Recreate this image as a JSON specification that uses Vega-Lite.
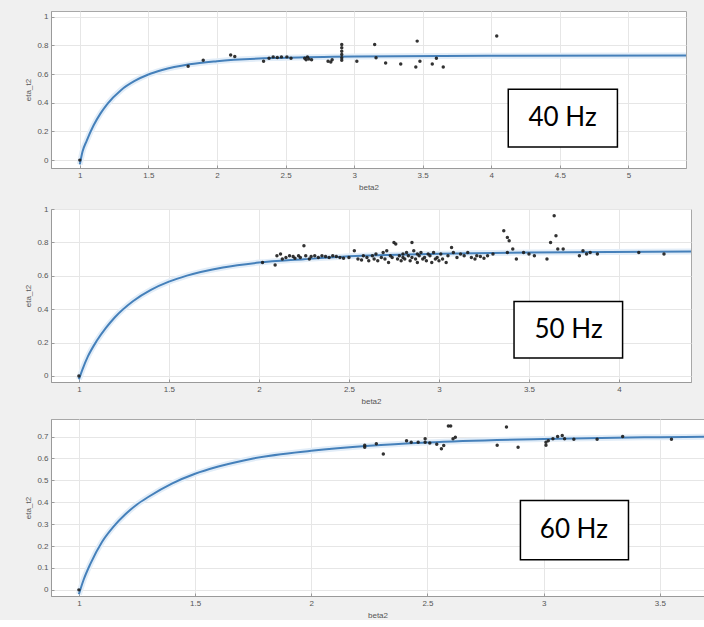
{
  "$schema": "https://vega.github.io/schema/vega-lite/v6.json",
  "padding": {"left": 24, "top": 10, "right": 0, "bottom": 0},
  "background": "#f0f0f0",
  "spacing": 12,
  "datasets": {
    "p1_pts": [
      {"beta2":1.0,"eta":0.0},{"beta2":1.79,"eta":0.655},{"beta2":1.9,"eta":0.696},{"beta2":2.1,"eta":0.733},{"beta2":2.13,"eta":0.723},
      {"beta2":2.34,"eta":0.69},{"beta2":2.38,"eta":0.71},{"beta2":2.41,"eta":0.72},{"beta2":2.44,"eta":0.715},{"beta2":2.47,"eta":0.72},
      {"beta2":2.51,"eta":0.72},{"beta2":2.54,"eta":0.71},{"beta2":2.64,"eta":0.71},{"beta2":2.65,"eta":0.70},{"beta2":2.66,"eta":0.72},
      {"beta2":2.67,"eta":0.705},{"beta2":2.69,"eta":0.70},{"beta2":2.81,"eta":0.69},{"beta2":2.83,"eta":0.685},{"beta2":2.84,"eta":0.70},
      {"beta2":2.91,"eta":0.807},{"beta2":2.91,"eta":0.784},{"beta2":2.91,"eta":0.76},{"beta2":2.91,"eta":0.737},{"beta2":2.91,"eta":0.714},
      {"beta2":2.91,"eta":0.696},{"beta2":3.02,"eta":0.69},{"beta2":3.15,"eta":0.807},{"beta2":3.16,"eta":0.714},{"beta2":3.23,"eta":0.677},
      {"beta2":3.34,"eta":0.67},{"beta2":3.46,"eta":0.83},{"beta2":3.45,"eta":0.65},{"beta2":3.48,"eta":0.69},{"beta2":3.57,"eta":0.67},
      {"beta2":3.6,"eta":0.71},{"beta2":3.65,"eta":0.65},{"beta2":4.04,"eta":0.865}
    ],
    "p1_fit": [
      {"beta2":1.0,"eta":-0.03},{"beta2":1.02,"eta":0.06},{"beta2":1.05,"eta":0.135},{"beta2":1.1,"eta":0.241},{"beta2":1.15,"eta":0.324},
      {"beta2":1.2,"eta":0.391},{"beta2":1.3,"eta":0.488},{"beta2":1.4,"eta":0.552},{"beta2":1.5,"eta":0.597},{"beta2":1.6,"eta":0.628},
      {"beta2":1.8,"eta":0.668},{"beta2":2.0,"eta":0.69},{"beta2":2.5,"eta":0.714},{"beta2":3.0,"eta":0.723},{"beta2":4.0,"eta":0.728},
      {"beta2":5.42,"eta":0.73}
    ],
    "p2_pts": [
      {"beta2":1.0,"eta":0.0},{"beta2":2.02,"eta":0.68},{"beta2":2.09,"eta":0.665},{"beta2":2.1,"eta":0.72},{"beta2":2.12,"eta":0.73},
      {"beta2":2.13,"eta":0.70},{"beta2":2.15,"eta":0.71},{"beta2":2.17,"eta":0.72},{"beta2":2.19,"eta":0.715},{"beta2":2.2,"eta":0.705},
      {"beta2":2.22,"eta":0.72},{"beta2":2.23,"eta":0.71},{"beta2":2.25,"eta":0.78},{"beta2":2.26,"eta":0.72},{"beta2":2.28,"eta":0.70},
      {"beta2":2.29,"eta":0.715},{"beta2":2.31,"eta":0.72},{"beta2":2.33,"eta":0.71},{"beta2":2.35,"eta":0.72},{"beta2":2.37,"eta":0.715},
      {"beta2":2.39,"eta":0.71},{"beta2":2.41,"eta":0.72},{"beta2":2.43,"eta":0.715},{"beta2":2.45,"eta":0.71},{"beta2":2.47,"eta":0.705},
      {"beta2":2.5,"eta":0.71},{"beta2":2.53,"eta":0.75},{"beta2":2.55,"eta":0.70},{"beta2":2.57,"eta":0.695},{"beta2":2.58,"eta":0.72},
      {"beta2":2.6,"eta":0.71},{"beta2":2.61,"eta":0.69},{"beta2":2.63,"eta":0.72},{"beta2":2.64,"eta":0.70},{"beta2":2.65,"eta":0.73},
      {"beta2":2.66,"eta":0.69},{"beta2":2.68,"eta":0.71},{"beta2":2.69,"eta":0.74},{"beta2":2.7,"eta":0.70},{"beta2":2.71,"eta":0.75},
      {"beta2":2.72,"eta":0.68},{"beta2":2.73,"eta":0.72},{"beta2":2.74,"eta":0.71},{"beta2":2.75,"eta":0.80},{"beta2":2.76,"eta":0.79},
      {"beta2":2.77,"eta":0.70},{"beta2":2.78,"eta":0.72},{"beta2":2.79,"eta":0.69},{"beta2":2.8,"eta":0.73},{"beta2":2.8,"eta":0.71},
      {"beta2":2.81,"eta":0.70},{"beta2":2.82,"eta":0.74},{"beta2":2.83,"eta":0.72},{"beta2":2.84,"eta":0.69},{"beta2":2.85,"eta":0.80},
      {"beta2":2.85,"eta":0.71},{"beta2":2.86,"eta":0.75},{"beta2":2.87,"eta":0.70},{"beta2":2.88,"eta":0.73},{"beta2":2.88,"eta":0.68},
      {"beta2":2.89,"eta":0.72},{"beta2":2.9,"eta":0.74},{"beta2":2.91,"eta":0.70},{"beta2":2.92,"eta":0.71},{"beta2":2.93,"eta":0.69},
      {"beta2":2.94,"eta":0.73},{"beta2":2.95,"eta":0.72},{"beta2":2.96,"eta":0.68},{"beta2":2.97,"eta":0.74},{"beta2":2.98,"eta":0.70},
      {"beta2":2.99,"eta":0.71},{"beta2":3.0,"eta":0.69},{"beta2":3.01,"eta":0.73},{"beta2":3.02,"eta":0.70},{"beta2":3.04,"eta":0.68},
      {"beta2":3.05,"eta":0.72},{"beta2":3.07,"eta":0.77},{"beta2":3.08,"eta":0.74},{"beta2":3.1,"eta":0.71},{"beta2":3.12,"eta":0.73},
      {"beta2":3.14,"eta":0.72},{"beta2":3.16,"eta":0.74},{"beta2":3.18,"eta":0.71},{"beta2":3.2,"eta":0.70},{"beta2":3.21,"eta":0.72},
      {"beta2":3.23,"eta":0.715},{"beta2":3.25,"eta":0.705},{"beta2":3.27,"eta":0.72},{"beta2":3.3,"eta":0.73},{"beta2":3.36,"eta":0.87},
      {"beta2":3.38,"eta":0.83},{"beta2":3.39,"eta":0.81},{"beta2":3.38,"eta":0.74},{"beta2":3.41,"eta":0.76},{"beta2":3.43,"eta":0.70},
      {"beta2":3.47,"eta":0.74},{"beta2":3.5,"eta":0.73},{"beta2":3.53,"eta":0.72},{"beta2":3.6,"eta":0.70},{"beta2":3.62,"eta":0.80},
      {"beta2":3.64,"eta":0.96},{"beta2":3.65,"eta":0.84},{"beta2":3.66,"eta":0.76},{"beta2":3.69,"eta":0.76},{"beta2":3.78,"eta":0.72},
      {"beta2":3.8,"eta":0.75},{"beta2":3.82,"eta":0.73},{"beta2":3.84,"eta":0.74},{"beta2":3.88,"eta":0.73},{"beta2":4.11,"eta":0.74},
      {"beta2":4.25,"eta":0.73}
    ],
    "p2_fit": [
      {"beta2":1.0,"eta":-0.02},{"beta2":1.02,"eta":0.04},{"beta2":1.05,"eta":0.117},{"beta2":1.1,"eta":0.212},{"beta2":1.15,"eta":0.288},
      {"beta2":1.2,"eta":0.352},{"beta2":1.3,"eta":0.448},{"beta2":1.4,"eta":0.516},{"beta2":1.5,"eta":0.565},{"beta2":1.6,"eta":0.601},
      {"beta2":1.8,"eta":0.65},{"beta2":2.0,"eta":0.679},{"beta2":2.25,"eta":0.699},{"beta2":2.5,"eta":0.717},{"beta2":3.0,"eta":0.732},
      {"beta2":3.5,"eta":0.74},{"beta2":4.4,"eta":0.745}
    ],
    "p3_pts": [
      {"beta2":1.0,"eta":0.0},{"beta2":2.23,"eta":0.651},{"beta2":2.23,"eta":0.66},{"beta2":2.28,"eta":0.667},{"beta2":2.31,"eta":0.62},
      {"beta2":2.41,"eta":0.681},{"beta2":2.43,"eta":0.674},{"beta2":2.46,"eta":0.674},{"beta2":2.49,"eta":0.69},{"beta2":2.49,"eta":0.674},
      {"beta2":2.51,"eta":0.67},{"beta2":2.54,"eta":0.665},{"beta2":2.56,"eta":0.644},{"beta2":2.57,"eta":0.659},{"beta2":2.59,"eta":0.748},
      {"beta2":2.6,"eta":0.748},{"beta2":2.61,"eta":0.69},{"beta2":2.62,"eta":0.697},{"beta2":2.8,"eta":0.66},{"beta2":2.84,"eta":0.743},
      {"beta2":2.89,"eta":0.651},{"beta2":3.01,"eta":0.674},{"beta2":3.01,"eta":0.66},{"beta2":3.02,"eta":0.681},{"beta2":3.04,"eta":0.69},
      {"beta2":3.06,"eta":0.70},{"beta2":3.08,"eta":0.705},{"beta2":3.09,"eta":0.69},{"beta2":3.13,"eta":0.688},{"beta2":3.23,"eta":0.688},
      {"beta2":3.34,"eta":0.70},{"beta2":3.55,"eta":0.688}
    ],
    "p3_fit": [
      {"beta2":1.0,"eta":-0.02},{"beta2":1.02,"eta":0.045},{"beta2":1.05,"eta":0.12},{"beta2":1.1,"eta":0.22},{"beta2":1.15,"eta":0.29},
      {"beta2":1.2,"eta":0.345},{"beta2":1.25,"eta":0.39},{"beta2":1.3,"eta":0.425},{"beta2":1.4,"eta":0.485},{"beta2":1.5,"eta":0.53},
      {"beta2":1.6,"eta":0.563},{"beta2":1.75,"eta":0.6},{"beta2":2.0,"eta":0.635},{"beta2":2.25,"eta":0.658},{"beta2":2.5,"eta":0.673},
      {"beta2":3.0,"eta":0.689},{"beta2":3.5,"eta":0.697},{"beta2":3.69,"eta":0.699}
    ]
  },
  "vconcat": [
    {
      "width": 635, "height": 157,
      "layer": [
        {"data": {"name": "p1_fit"}, "mark": {"type": "line", "color": "#e2edf8", "strokeWidth": 6, "interpolate": "monotone", "clip": true},
         "encoding": {
           "x": {"field": "beta2", "type": "quantitative", "scale": {"domain": [0.79, 5.42], "nice": false, "zero": false},
                 "axis": {"title": "beta2", "values": [1, 1.5, 2, 2.5, 3, 3.5, 4, 4.5, 5], "tickCount": 30, "format": ".1~f", "labelOverlap": false}},
           "y": {"field": "eta", "type": "quantitative", "scale": {"domain": [-0.055, 1.04], "nice": false, "zero": false},
                 "axis": {"title": "eta_t2", "values": [0, 0.2, 0.4, 0.6, 0.8, 1], "tickCount": 30, "format": ".1~f", "labelOverlap": false}}}},
        {"data": {"name": "p1_fit"}, "mark": {"type": "line", "color": "#4580ba", "strokeWidth": 2, "interpolate": "monotone", "clip": true},
         "encoding": {"x": {"field": "beta2", "type": "quantitative"}, "y": {"field": "eta", "type": "quantitative"}}},
        {"data": {"name": "p1_pts"}, "mark": {"type": "circle", "size": 12, "color": "#1c1c1c", "opacity": 0.9},
         "encoding": {"x": {"field": "beta2", "type": "quantitative"}, "y": {"field": "eta", "type": "quantitative"}}},
        {"data": {"values": [{"label": "40 Hz"}]}, "mark": {"type": "rect", "fill": "white", "stroke": "black", "strokeWidth": 1.5},
         "encoding": {"x": {"datum": 4.124}, "x2": {"datum": 4.92}, "y": {"datum": 0.091}, "y2": {"datum": 0.495}}},
        {"data": {"values": [{"label": "40 Hz"}]}, "mark": {"type": "text", "font": "Lato", "fontSize": 26, "color": "black", "baseline": "middle", "align": "center"},
         "encoding": {"x": {"datum": 4.52}, "y": {"datum": 0.293}, "text": {"field": "label"}}}
      ]
    },
    {
      "width": 640, "height": 173,
      "layer": [
        {"data": {"name": "p2_fit"}, "mark": {"type": "line", "color": "#e2edf8", "strokeWidth": 6, "interpolate": "monotone", "clip": true},
         "encoding": {
           "x": {"field": "beta2", "type": "quantitative", "scale": {"domain": [0.845, 4.4], "nice": false, "zero": false},
                 "axis": {"title": "beta2", "values": [1, 1.5, 2, 2.5, 3, 3.5, 4], "tickCount": 30, "format": ".1~f", "labelOverlap": false}},
           "y": {"field": "eta", "type": "quantitative", "scale": {"domain": [-0.036, 1.0], "nice": false, "zero": false},
                 "axis": {"title": "eta_t2", "values": [0, 0.2, 0.4, 0.6, 0.8, 1], "tickCount": 30, "format": ".1~f", "labelOverlap": false}}}},
        {"data": {"name": "p2_fit"}, "mark": {"type": "line", "color": "#4580ba", "strokeWidth": 2, "interpolate": "monotone", "clip": true},
         "encoding": {"x": {"field": "beta2", "type": "quantitative"}, "y": {"field": "eta", "type": "quantitative"}}},
        {"data": {"name": "p2_pts"}, "mark": {"type": "circle", "size": 12, "color": "#1c1c1c", "opacity": 0.9},
         "encoding": {"x": {"field": "beta2", "type": "quantitative"}, "y": {"field": "eta", "type": "quantitative"}}},
        {"data": {"values": [{"label": "50 Hz"}]}, "mark": {"type": "rect", "fill": "white", "stroke": "black", "strokeWidth": 1.5},
         "encoding": {"x": {"datum": 3.417}, "x2": {"datum": 4.02}, "y": {"datum": 0.108}, "y2": {"datum": 0.446}}},
        {"data": {"values": [{"label": "50 Hz"}]}, "mark": {"type": "text", "font": "Lato", "fontSize": 26, "color": "black", "baseline": "middle", "align": "center"},
         "encoding": {"x": {"datum": 3.72}, "y": {"datum": 0.277}, "text": {"field": "label"}}}
      ]
    },
    {
      "width": 653, "height": 177,
      "layer": [
        {"data": {"name": "p3_fit"}, "mark": {"type": "line", "color": "#e2edf8", "strokeWidth": 6, "interpolate": "monotone", "clip": true},
         "encoding": {
           "x": {"field": "beta2", "type": "quantitative", "scale": {"domain": [0.88, 3.69], "nice": false, "zero": false},
                 "axis": {"title": "beta2", "values": [1, 1.5, 2, 2.5, 3, 3.5], "tickCount": 30, "format": ".1~f", "labelOverlap": false}},
           "y": {"field": "eta", "type": "quantitative", "scale": {"domain": [-0.028, 0.78], "nice": false, "zero": false},
                 "axis": {"title": "eta_t2", "values": [0, 0.1, 0.2, 0.3, 0.4, 0.5, 0.6, 0.7], "tickCount": 30, "format": ".1~f", "labelOverlap": false}}}},
        {"data": {"name": "p3_fit"}, "mark": {"type": "line", "color": "#4580ba", "strokeWidth": 2, "interpolate": "monotone", "clip": true},
         "encoding": {"x": {"field": "beta2", "type": "quantitative"}, "y": {"field": "eta", "type": "quantitative"}}},
        {"data": {"name": "p3_pts"}, "mark": {"type": "circle", "size": 12, "color": "#1c1c1c", "opacity": 0.9},
         "encoding": {"x": {"field": "beta2", "type": "quantitative"}, "y": {"field": "eta", "type": "quantitative"}}},
        {"data": {"values": [{"label": "60 Hz"}]}, "mark": {"type": "rect", "fill": "white", "stroke": "black", "strokeWidth": 1.5},
         "encoding": {"x": {"datum": 2.9}, "x2": {"datum": 3.365}, "y": {"datum": 0.138}, "y2": {"datum": 0.408}}},
        {"data": {"values": [{"label": "60 Hz"}]}, "mark": {"type": "text", "font": "Lato", "fontSize": 26, "color": "black", "baseline": "middle", "align": "center"},
         "encoding": {"x": {"datum": 3.13}, "y": {"datum": 0.273}, "text": {"field": "label"}}}
      ]
    }
  ],
  "config": {
    "view": {"fill": "white", "stroke": "#a8a8a8", "strokeWidth": 1},
    "axis": {
      "grid": true, "gridColor": "#e6e6e6", "domainColor": "#9a9a9a", "tickColor": "#9a9a9a", "tickSize": -3,
      "labelFont": "Liberation Sans", "labelFontSize": 8, "labelColor": "#555555", "labelPadding": 6, "labelOverlap": false,
      "titleFont": "Liberation Sans", "titleFontSize": 8, "titleFontWeight": "normal", "titleColor": "#555555", "titlePadding": 4
    }
  }
}
